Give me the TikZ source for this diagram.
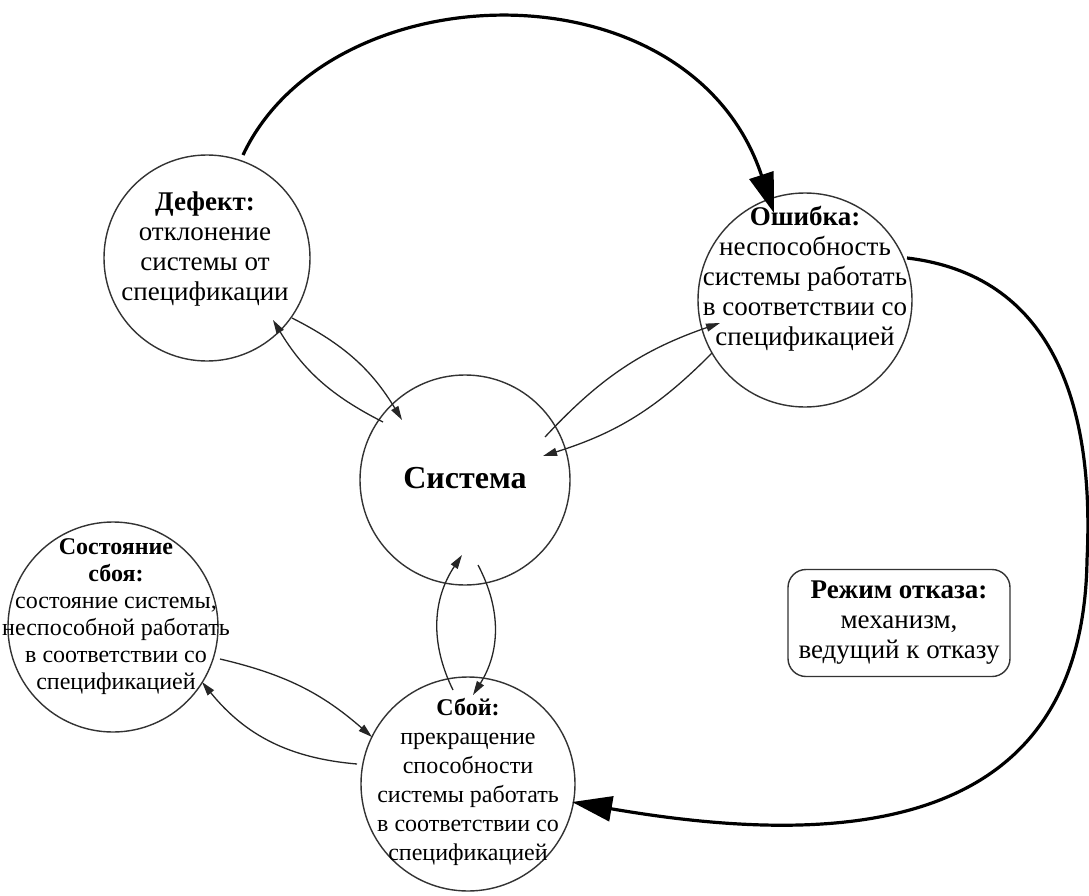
\documentclass[tikz,border=0pt]{standalone}
\usepackage{fontspec}
\setmainfont{Liberation Serif}
\usetikzlibrary{arrows.meta,calc}
\begin{document}
\begin{tikzpicture}[x=1pt,y=-1pt,
  circ/.style={draw=black!80, circle, line width=1.4pt, inner sep=0pt, minimum size=#1},
  txt/.style={align=center, font=\fontsize{27}{30}\selectfont, inner sep=0pt},
  smalltxt/.style={align=center, font=\fontsize{24}{27}\selectfont, inner sep=0pt},
  small/.style={draw=black!85, line width=1.3pt, -{Triangle[length=14pt,width=8pt]}},
  big/.style={draw=black, line width=3.2pt, -{Triangle[length=40pt,width=25pt]}},
]
\useasboundingbox (0,0) rectangle (1089,896);
\fill[white] (0,0) rectangle (1089,896);

% circles
\node[circ=206pt] (def) at (207,258) {};
\node[circ=214pt] (err) at (805,300) {};
\node[circ=210pt] (sys) at (465,480) {};
\node[circ=210pt] (state) at (113,627) {};
\node[circ=214pt] (fail) at (468,784) {};

% texts
\node[txt] (deft) at (205,249) {\textbf{Дефект:}\\отклонение\\системы от\\спецификации};
\node[txt] (errt) at (805,279) {\textbf{Ошибка:}\\неспособность\\системы работать\\в соответствии со\\спецификацией};
\node[inner sep=0pt, font=\fontsize{32}{36}\selectfont\bfseries] (syst) at (465,478) {Система};
\node[smalltxt] (statet) at (116,617) {\textbf{Состояние}\\\textbf{сбоя:}\\состояние системы,\\неспособной работать\\в соответствии со\\спецификацией};
\node[txt, font=\fontsize{24}{29}\selectfont] (failt) at (468,782) {\textbf{Сбой:}\\прекращение\\способности\\системы работать\\в соответствии со\\спецификацией};
\node[draw=black!80, line width=1.4pt, rounded corners=18pt, minimum width=222pt, minimum height=107pt, inner sep=0pt, align=center, font=\fontsize{27}{30}\selectfont] (mode) at (899,623) {\textbf{Режим отказа:}\\механизм,\\ведущий к отказу};

% big arrows
\draw[big] ($(def)+(36,-103)$) .. controls (330,-30) and (690,-40) .. ($(err)+(-31,-87)$);
\coordinate (turn) at (1087,560);
\draw[big] ($(err)+(102,-42)$) .. controls (1050,275) and (1095,400) .. (turn)
  .. controls (1083,830) and (850,850) .. ($(fail)+(104,18)$);

% small arrows
\draw[small] ($(sys)+(-82,-58)$) to[bend left=16] ($(def)+(66,62)$);
\draw[small] ($(def)+(85,60)$) to[bend left=16] ($(sys)+(-63,-60)$);
\draw[small] ($(sys)+(80,-43)$) to[bend left=14] ($(err)+(-85,23)$);
\draw[small] ($(err)+(-93,53)$) to[bend left=14] ($(sys)+(78,-24)$);
\draw[small] ($(fail)+(-15,-94)$) to[bend left=30] ($(sys)+(-3,75)$);
\draw[small] ($(sys)+(13,85)$) to[bend left=30] ($(fail)+(5,-89)$);
\draw[small] ($(state)+(107,32)$) to[bend left=14] ($(fail)+(-96,-47)$);
\draw[small] ($(fail)+(-111,-20)$) to[bend left=23] ($(state)+(89,55)$);
\end{tikzpicture}
\end{document}
